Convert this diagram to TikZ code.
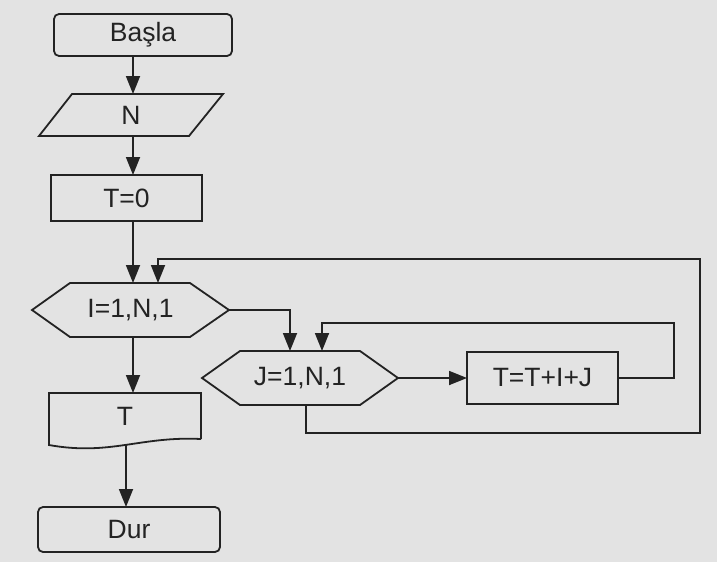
\documentclass[tikz,border=0pt]{standalone}
\usepackage{fontspec}
\setmainfont{Liberation Sans}
\usetikzlibrary{arrows.meta,calc}
\definecolor{paper}{RGB}{227,227,227}
\definecolor{ink}{RGB}{35,35,35}
\tikzset{
  box/.style={inner sep=0pt, outer sep=0pt, text=ink,
    font=\fontsize{26.5}{31}\selectfont},
  line/.style={draw=ink, line width=1.8pt},
  arr/.style={line, -{Triangle[length=18pt,width=14pt]}},
}
\begin{document}
\begin{tikzpicture}[x=1pt,y=-1pt]
  \fill[paper] (0,0) rectangle (717,562);
  % begin / end
  \node[box, line, rounded corners=5pt, minimum width=178, minimum height=42] (basla) at (143,35) {Başla};
  \node[box, line, rounded corners=5pt, minimum width=182, minimum height=45] (dur) at (129,529.5) {Dur};
  % input N
  \node[box, minimum width=184, minimum height=42] (n) at (131,115) {N};
  \draw[line] ([xshift=33pt]n.north west) -- (n.north east) -- ([xshift=-34pt]n.south east) -- (n.south west) -- cycle;
  % processes
  \node[box, line, minimum width=151, minimum height=46] (t0) at (126.5,198) {T=0};
  \node[box, line, minimum width=151, minimum height=52] (calc) at (542.5,378) {T=T+I+J};
  % loops
  \node[box, minimum width=197, minimum height=54] (ihex) at (130.5,310) {I=1,N,1};
  \draw[line] (ihex.west) -- ([xshift=38pt]ihex.north west) -- ([xshift=-39pt]ihex.north east) -- (ihex.east)
    -- ([xshift=-39pt]ihex.south east) -- ([xshift=38pt]ihex.south west) -- cycle;
  \node[box, minimum width=196, minimum height=54] (jhex) at (300,378) {J=1,N,1};
  \draw[line] (jhex.west) -- ([xshift=38pt]jhex.north west) -- ([xshift=-38pt]jhex.north east) -- (jhex.east)
    -- ([xshift=-38pt]jhex.south east) -- ([xshift=38pt]jhex.south west) -- cycle;
  % output T
  \node[box, minimum width=152, minimum height=46] (tout) at (125,416) {T};
  \draw[line] (tout.south east) -- (tout.north east) -- (tout.north west) -- ($(tout.south west)+(0,6)$)
    .. controls ($(tout.south west)+(61,17)$) and ($(tout.south east)+(-61,-3)$) .. (tout.south east);
  % connectors
  \coordinate (col) at (133,0);
  \coordinate (dtop) at ($(tout.south)+(1,6)$);
  \coordinate (inr) at (674,323);
  \coordinate (otr) at (700,259);
  \coordinate (obr) at (700,433);
  \draw[arr] (basla.south -| col) -- (n.north -| col);
  \draw[arr] (n.south -| col) -- (t0.north -| col);
  \draw[arr] (t0.south -| col) -- (ihex.north -| col);
  \draw[arr] (ihex.south -| col) -- (tout.north -| col);
  \draw[arr] (dtop) -- (dtop |- dur.north);
  \draw[arr] (ihex.east) -| ([xshift=-10pt]jhex.north);
  \draw[arr] (jhex.east) -- (calc.west);
  \draw[arr] (calc.east) -| (inr) -| ([xshift=22pt]jhex.north);
  \draw[arr] ([xshift=6pt]jhex.south) |- (obr) -- (otr) -| ([xshift=27.5pt]ihex.north);
\end{tikzpicture}
\end{document}
